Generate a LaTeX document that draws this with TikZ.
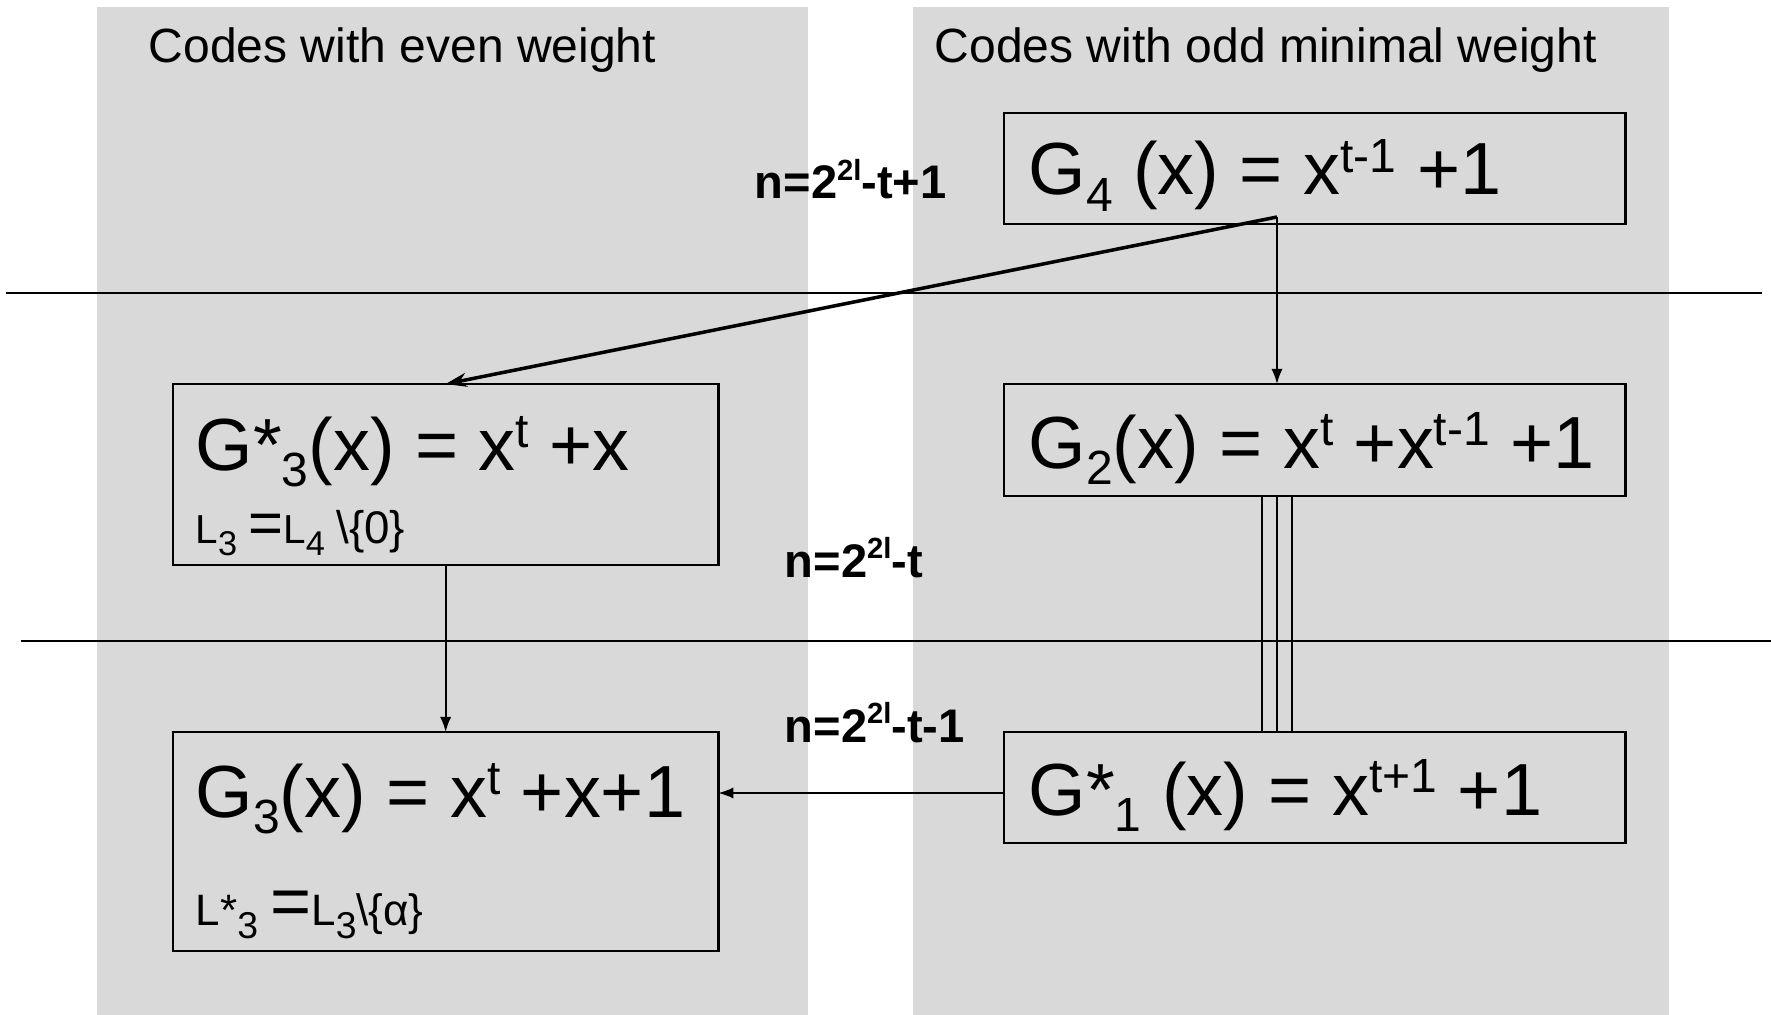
\documentclass[tikz,border=0pt]{standalone}
\usepackage{fontspec}
\setmainfont{Liberation Sans}
\usepackage{xcolor}
\usepackage{tikz}
\usetikzlibrary{arrows.meta}
\definecolor{cdgray}{RGB}{217,217,217}
\newcommand{\cdsup}[1]{\raisebox{0.3em}{\scalebox{0.65}{#1}}}
\newcommand{\cdsub}[1]{\raisebox{-0.22em}{\scalebox{0.65}{#1}}}
\newcommand{\cdlsup}[1]{\raisebox{0.4em}{\scalebox{0.62}{#1}}}
\newcommand{\cdnsub}[1]{\raisebox{-0.3em}{\scalebox{0.85}{#1}}}
\tikzset{
  cdpanel/.style={fill=cdgray},
  cdrule/.style={line width=0.7pt, draw=black},
  cdbox/.style={draw=black, line width=0.7pt, rectangle, inner sep=0pt, outer sep=0pt, anchor=north west},
  cdlink/.style={line width=0.5pt, draw=black, -{Latex[length=4.3pt,width=3.2pt]}},
  cdlinkbold/.style={line width=1pt, draw=black, -{Stealth[length=6pt,width=4pt]}},
  cdpipe/.style={line width=0.5pt, draw=black},
  cdhead/.style={anchor=base west, inner sep=0pt, font=\fontsize{13.66}{16}\selectfont},
  cdlabel/.style={anchor=base west, inner sep=0pt, font=\fontsize{13.4}{16}\selectfont\bfseries},
  cdformula/.style={anchor=base west, inner sep=0pt, font=\fontsize{21}{25}\selectfont},
  cdnote/.style={anchor=base west, inner sep=0pt, font=\fontsize{11.5}{13}\selectfont},
}
\begin{document}
\begin{tikzpicture}[x=0.01cm, y=-0.01cm]
\useasboundingbox (0,0) rectangle (1771,1015);
% two columns
\fill[cdpanel] (97,7) rectangle (808,1015);
\fill[cdpanel] (913,7) rectangle (1669,1015);
\draw[cdrule] (6,293) -- (1762,293);
\draw[cdrule] (21,641) -- (1771,641);
\node[cdhead] (evenhead) at (148,63) {Codes with even weight};
\node[cdhead] (oddhead) at (934,63) {Codes with odd minimal weight};
% boxes
\node[cdbox, minimum width=6.21cm, minimum height=1.11cm] (g4) at (1004,113) {};
\node[cdbox, minimum width=5.45cm, minimum height=1.81cm] (g3s) at (173,384) {};
\node[cdbox, minimum width=6.21cm, minimum height=1.12cm] (g2) at (1004,384) {};
\node[cdbox, minimum width=5.45cm, minimum height=2.19cm] (g3) at (173,732) {};
\node[cdbox, minimum width=6.21cm, minimum height=1.11cm] (g1s) at (1004,732) {};
% formulas
\node[cdformula] (g4txt) at (1028,195) {G\cdsub{4} (x) = x\cdsup{t-1} +1};
\node[cdformula] (g3stxt) at (195,470) {G*\cdsub{3}(x) = x\cdsup{t} +x};
\node[cdformula] (g2txt) at (1028,468) {G\cdsub{2}(x) = x\cdsup{t} +x\cdsup{t-1} +1};
\node[cdformula] (g3txt) at (195,817) {G\cdsub{3}(x) = x\cdsup{t} +x+1};
\node[cdformula] (g1stxt) at (1028,815) {G*\cdsub{1} (x) = x\cdsup{t+1} +1};
\node[cdnote] (l3txt) at (195,543) {L\cdnsub{3} {\fontsize{17}{19}\selectfont=}L\cdnsub{4} {\fontsize{13}{15}\selectfont\textbackslash\{0\}}};
\node[cdnote, font=\fontsize{12.5}{14}\selectfont] (l3stxt) at (195,925) {L*\cdnsub{3} {\fontsize{20}{24}\selectfont=}L\cdnsub{3}\textbackslash\{α\}};
% lengths
\node[cdlabel] (n1) at (754,199) {n=2\cdlsup{2l}-t+1};
\node[cdlabel] (n2) at (784,577) {n=2\cdlsup{2l}-t};
\node[cdlabel] (n3) at (784,742) {n=2\cdlsup{2l}-t-1};
% links
\coordinate (g4out) at (1277,217);
\coordinate (pipel) at (1262,0);
\coordinate (piper) at (1292,0);
\coordinate (hy) at (0,793);
\draw[cdlinkbold] (g4out) -- (g3s.north);
\draw[cdlink] (g4out) -- (g4out |- g2.north);
\draw[cdpipe] (pipel |- g2.south) -- (pipel |- g1s.north);
\draw[cdpipe] (g4out |- g2.south) -- (g4out |- g1s.north);
\draw[cdpipe] (piper |- g2.south) -- (piper |- g1s.north);
\draw[cdlink] (g3s.south) -- (g3.north);
\draw[cdlink] (g1s.west |- hy) -- (g3.east |- hy);
\end{tikzpicture}
\end{document}
